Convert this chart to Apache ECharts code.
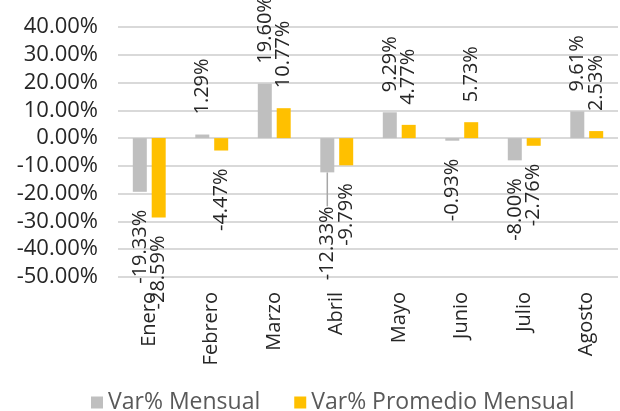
<!DOCTYPE html>
<html><head><meta charset="utf-8">
<script src="https://cdn.jsdelivr.net/npm/echarts@6/dist/echarts.min.js"></script>
<style>html,body{margin:0;padding:0;background:#fff}#c{width:620px;height:411px}</style>
</head><body><div id="c"></div>
<script>
var categories = ['Enero','Febrero','Marzo','Abril','Mayo','Junio','Julio','Agosto'];
var mensual = [-19.33, 1.29, 19.60, -12.33, 9.29, -0.93, -8.00, 9.61];
var promedio = [-28.59, -4.47, 10.77, -9.79, 4.77, 5.73, -2.76, 2.53];
var seriesNames = ['Var% Mensual', 'Var% Promedio Mensual'];

var FONT = '"Open Sans", "Noto Sans", sans-serif';
function mk(vals, movedIndex) {
  return vals.map(function (v, i) {
    var neg = v < 0;
    var item = {
      value: v,
      label: {
        position: neg ? 'bottom' : 'top',
        align: neg ? 'right' : 'left',
        distance: neg ? 18 : 20
      }
    };
    if (i === movedIndex) {
      item.label.distance = 34;
      item.labelLine = {show: true, lineStyle: {color: '#a6a6a6', width: 1.5}};
    }
    return item;
  });
}
function lbl() {
  return {
    show: true, rotate: 90, verticalAlign: 'middle',
    fontFamily: FONT, fontSize: 20, color: '#262626',
    formatter: function (p) { return p.value.toFixed(2) + '%'; }
  };
}
var chart = echarts.init(document.getElementById('c'), null, {renderer: 'canvas'});
chart.setOption({
  animation: false,
  textStyle: {fontFamily: FONT},
  grid: {left: 118, right: 2, top: 27, bottom: 134},
  legend: {
    left: 86, top: 386, width: 530,
    itemWidth: 12, itemHeight: 12, itemGap: 34,
    icon: 'rect',
    textStyle: {fontFamily: FONT, fontSize: 23, color: '#595959'},
    data: seriesNames
  },
  xAxis: {
    type: 'category', data: categories,
    axisLine: {show: false}, axisTick: {show: false},
    axisLabel: {rotate: 90, fontFamily: FONT, fontSize: 20, color: '#262626', margin: 15, interval: 0}
  },
  yAxis: {
    type: 'value', min: -50, max: 40, interval: 10,
    axisLine: {show: false}, axisTick: {show: false},
    splitLine: {lineStyle: {color: '#d9d9d9', width: 2}},
    axisLabel: {fontFamily: FONT, fontSize: 22, color: '#262626', margin: 20,
      formatter: function (v) { return v.toFixed(2) + '%'; }}
  },
  series: [
    {name: seriesNames[0], type: 'bar', data: mk(mensual, 3), barWidth: 14, barGap: '35%',
     itemStyle: {color: '#bfbfbf'}, label: lbl()},
    {name: seriesNames[1], type: 'bar', data: mk(promedio, -1), barWidth: 14,
     itemStyle: {color: '#ffc000'}, label: lbl()}
  ]
});
</script></body></html>
